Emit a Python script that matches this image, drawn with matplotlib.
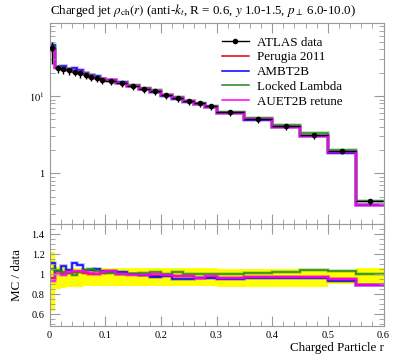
import numpy as np
import matplotlib
matplotlib.use('Agg')
from matplotlib import pyplot as plt
from matplotlib.lines import Line2D
from matplotlib.ticker import FixedLocator, FuncFormatter, MultipleLocator

plt.rcParams['font.family'] = ['Liberation Serif', 'DejaVu Serif']
plt.rcParams['mathtext.fontset'] = 'stix'

# bin edges in r
edges = [0.0, 0.01, 0.02, 0.03, 0.04, 0.05, 0.06, 0.07, 0.08, 0.09, 0.10,
         0.12, 0.14, 0.16, 0.18, 0.20, 0.22, 0.24, 0.26, 0.28, 0.30,
         0.35, 0.40, 0.45, 0.50, 0.55, 0.60]

data = [41.4, 23.2, 22.5, 21.5, 20.7, 19.7, 18.8, 17.8, 17.0, 16.2,
        15.6, 14.7, 13.6, 12.4, 11.5, 10.3, 9.5, 8.7, 8.1, 7.4,
        6.25, 5.1, 4.12, 3.15, 1.96, 0.435]
# relative data uncertainties (down / up)
data_rel_dn = [0.37, 0.147, 0.135, 0.125, 0.125, 0.125, 0.12, 0.12, 0.12, 0.12,
               0.115, 0.115, 0.115, 0.115, 0.115, 0.12, 0.12, 0.12, 0.12, 0.12,
               0.13, 0.13, 0.13, 0.13, 0.10, 0.115]
data_rel_up = [0.22, 0.07, 0.07, 0.065, 0.065, 0.065, 0.06, 0.06, 0.06, 0.06,
               0.06, 0.06, 0.06, 0.06, 0.06, 0.06, 0.06, 0.06, 0.06, 0.06,
               0.05, 0.05, 0.05, 0.05, 0.04, 0.065]

perugia = [39.7, 23.9, 22.5, 21.7, 21.1, 20.1, 19.0, 17.8, 17.0, 16.4,
           15.9, 14.7, 13.6, 12.3, 11.3, 10.2, 9.36, 8.53, 7.82, 7.22,
           6.0, 4.97, 4.02, 3.07, 1.86, 0.389]
ambt2b = [46.0, 24.0, 24.4, 22.4, 23.1, 21.5, 19.6, 18.6, 17.9, 16.7,
          16.1, 15.1, 13.6, 12.3, 11.2, 10.1, 9.07, 8.31, 7.78, 7.14,
          5.97, 4.92, 3.96, 3.04, 1.83, 0.387]
locked = [43.5, 23.9, 23.0, 21.7, 20.5, 20.1, 19.6, 18.7, 17.5, 16.5,
          15.8, 14.8, 13.7, 12.6, 11.8, 10.3, 9.74, 8.7, 8.1, 7.4,
          6.25, 5.18, 4.20, 3.28, 2.02, 0.435]
auet2b = [38.5, 23.2, 22.3, 21.9, 21.3, 20.3, 19.2, 18.0, 17.0, 16.5,
          16.1, 14.8, 13.5, 12.3, 11.5, 10.2, 9.31, 8.57, 7.78, 7.29,
          6.0, 4.97, 4.0, 3.07, 1.86, 0.387]

mc_series = [('Perugia 2011', perugia, '#e00000'),
             ('AMBT2B', ambt2b, '#0000ff'),
             ('Locked Lambda', locked, '#1f8a1f'),
             ('AUET2B retune', auet2b, '#ff00ff')]

edges = np.array(edges)
data = np.array(data)
centers = 0.5 * (edges[1:] + edges[:-1])
halfw = 0.5 * (edges[1:] - edges[:-1])
err_dn = data * np.array(data_rel_dn)
err_up = data * np.array(data_rel_up)

fig = plt.figure(figsize=(3.97, 3.58), dpi=100)
W = 397.0
H = 358.0
x0, x1 = 49.5 / W, 383.5 / W
ax = fig.add_axes([x0, 1 - 224.3 / H, x1 - x0, (224.3 - 23.3) / H])
rax = fig.add_axes([x0, 1 - 325.7 / H, x1 - x0, (325.7 - 224.3) / H], sharex=ax)

# main panel
for name, vals, col in mc_series:
    ax.stairs(vals, edges, baseline=None, color=col, lw=2.6, alpha=0.3)
    ax.stairs(vals, edges, baseline=None, color=col, lw=1.1)
ax.errorbar(centers, data, yerr=[err_dn, err_up], xerr=halfw, fmt='o', ms=3,
            color='black', elinewidth=1, capsize=0, zorder=5)

ax.set_yscale('log')
ax.set_ylim(0.219, 87.2)
ax.set_xlim(0, 0.6)
ax.yaxis.set_major_formatter(FuncFormatter(
    lambda v, p: '1' if abs(v - 1) < 1e-9 else (r'$10^{1}$' if abs(v - 10) < 1e-9 else '')))
ax.yaxis.set_minor_formatter(FuncFormatter(lambda v, p: ''))
plt.setp(ax.get_xticklabels(), visible=False)

handles = [Line2D([], [], color='black', marker='o', ms=3, lw=1)]
handles += [Line2D([], [], color=c, lw=1.1) for n, v, c in mc_series]
labels = ['ATLAS data'] + [n for n, v, c in mc_series]
ax.legend(handles, labels, loc='upper left', bbox_to_anchor=(0.5, 0.96),
          frameon=False, fontsize=9.4, handlelength=2.1, handletextpad=0.6,
          labelspacing=0.2, borderaxespad=0)

ax.text(0.0, 1.046, r'Charged jet $\rho_{\rm ch}(r)$ (anti-$k_t$, R = 0.6, $y$ 1.0-1.5, $p_\perp$ 6.0-10.0)',
        transform=ax.transAxes, fontsize=9.4, ha='left', va='baseline')

# ratio panel
lo = 1 - np.array(data_rel_dn)
hi = 1 + np.array(data_rel_up)
rax.stairs(hi, edges, baseline=lo, fill=True, color='#ffff00', lw=0)
for name, vals, col in mc_series:
    ratio = np.array(vals) / data
    rax.stairs(ratio, edges, baseline=None, color=col, lw=2.6, alpha=0.3)
    rax.stairs(ratio, edges, baseline=None, color=col, lw=1.1)
rax.set_ylim(0.486, 1.5)
rax.yaxis.set_major_locator(FixedLocator([0.6, 0.8, 1.0, 1.2, 1.4]))
rax.yaxis.set_major_formatter(FuncFormatter(lambda v, p: '1' if abs(v - 1) < 1e-9 else '%.1f' % v))
rax.yaxis.set_minor_locator(MultipleLocator(0.05))
rax.xaxis.set_major_locator(MultipleLocator(0.1))
rax.xaxis.set_major_formatter(FuncFormatter(lambda v, p: '0' if abs(v) < 1e-9 else '%.1f' % v))
rax.xaxis.set_minor_locator(MultipleLocator(0.02))
rax.set_ylabel('MC / data', fontsize=9.4, labelpad=6)
rax.set_xlabel('Charged Particle r', fontsize=9.4, loc='right', labelpad=2)

for a in (ax, rax):
    for s in a.spines.values():
        s.set_color('#999999')
        s.set_linewidth(0.8)
    a.tick_params(which='both', direction='in', top=True, right=True,
                  colors='#999999', labelcolor='black', labelsize=7.5)
    a.tick_params(which='major', length=7, width=0.8)
    a.tick_params(which='minor', length=3.5, width=0.6)

fig.savefig('out.png', dpi=100)
